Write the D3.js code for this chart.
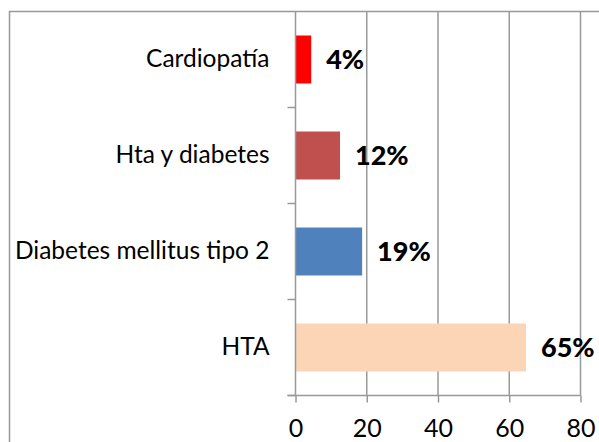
<!DOCTYPE html>
<html>
<head>
<meta charset="utf-8">
<script src="https://cdn.jsdelivr.net/npm/d3@7"></script>
<style>
  body { margin: 0; background: #fff; }
  svg { display: block; font-family: Lato, "Open Sans", sans-serif; }
</style>
</head>
<body>
<div id="chart"></div>
<script>
// Datos
const categorias = ["HTA", "Diabetes mellitus tipo 2", "Hta y diabetes", "Cardiopatía"];
const valores = [64.7, 18.7, 12.5, 4.4];
const etiquetas = ["65%", "19%", "12%", "4%"];
const colores = ["#FBD5B5", "#4F81BD", "#C0504D", "#FF0000"];
const ticksX = [0, 20, 40, 60, 80];

const width = 599;
const height = 442;
const marginTop = 11.5;
const marginRight = 18.5;
const marginBottom = 46.5;
const marginLeft = 295.5;

const data = categorias.map((c, i) => ({ cat: c, val: valores[i], lab: etiquetas[i], color: colores[i] }));

const svg = d3.create("svg")
  .attr("width", width)
  .attr("height", height)
  .attr("viewBox", [0, 0, width, height]);

d3.select("#chart").append(() => svg.node());

// Marco del gráfico
svg.append("rect")
  .attr("x", 9.5).attr("y", 11.5)
  .attr("width", 700).attr("height", 500)
  .attr("fill", "none")
  .attr("stroke", "#999")
  .attr("stroke-width", 1.5);

// Escalas
const x = d3.scaleLinear()
  .domain([0, 80])
  .range([marginLeft, width - marginRight]);

const y = d3.scaleBand()
  .domain(categorias.slice().reverse())
  .range([marginTop, height - marginBottom])
  .paddingInner(0.5)
  .paddingOuter(0.25);

const yAxisScale = d3.scaleBand()
  .domain(categorias.slice().reverse())
  .range([marginTop, height - marginBottom]);

// Rejilla vertical
svg.append("g")
  .selectAll("line")
  .data(ticksX.slice(1))
  .join("line")
  .attr("x1", d => x(d)).attr("x2", d => x(d))
  .attr("y1", marginTop).attr("y2", height - marginBottom)
  .attr("stroke", "#999")
  .attr("stroke-width", 1.5);

// Barras
svg.append("g")
  .selectAll("rect")
  .data(data)
  .join("rect")
  .attr("x", x(0))
  .attr("y", d => y(d.cat))
  .attr("width", d => x(d.val) - x(0))
  .attr("height", y.bandwidth())
  .attr("fill", d => d.color);

// Etiquetas de valores
svg.append("g")
  .selectAll("text")
  .data(data)
  .join("text")
  .attr("x", d => x(d.val) + 15)
  .attr("y", d => y(d.cat) + y.bandwidth() / 2)
  .attr("dy", "0.36em")
  .attr("font-size", 27)
  .attr("font-weight", "900")
  .attr("fill", "#000")
  .text(d => d.lab);

// Eje X
svg.append("g")
  .attr("transform", `translate(0,${height - marginBottom})`)
  .call(d3.axisBottom(x).tickValues(ticksX).tickSize(7).tickPadding(17))
  .call(g => g.selectAll("line, path").attr("stroke", "#999").attr("stroke-width", 1.5))
  .call(g => g.select(".domain").attr("d", `M${x(0) - 8},0H${x(80)}`))
  .call(g => g.selectAll("text").attr("font-size", 25).attr("fill", "#000")
    .attr("font-family", "Lato, sans-serif"));

// Eje Y
svg.append("g")
  .attr("transform", `translate(${marginLeft},0)`)
  .call(d3.axisLeft(yAxisScale).tickSize(0).tickPadding(26))
  .call(g => g.select(".domain").attr("stroke", "#999").attr("stroke-width", 1.5)
    .attr("d", `M0,${marginTop}V${height - marginBottom}`))
  .call(g => g.selectAll("text").attr("font-size", 24.5).attr("fill", "#000")
    .attr("font-family", "Lato, sans-serif"));

// Marcas de categoría (entre bandas)
svg.append("g")
  .selectAll("line")
  .data(categorias.slice().reverse())
  .join("line")
  .attr("x1", marginLeft - 8).attr("x2", marginLeft)
  .attr("y1", d => yAxisScale(d) + yAxisScale.bandwidth())
  .attr("y2", d => yAxisScale(d) + yAxisScale.bandwidth())
  .attr("stroke", "#999")
  .attr("stroke-width", 1.5);
</script>
</body>
</html>
